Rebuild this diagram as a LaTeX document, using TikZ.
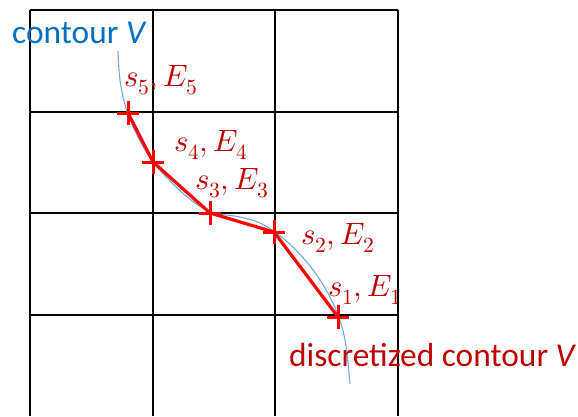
\documentclass[tikz,border=0pt]{standalone}
\usepackage{fontspec}
\usepackage{unicode-math}
\setmainfont{Carlito}
\setmathfont{Latin Modern Math}
\definecolor{txtblue}{HTML}{0070C0}
\definecolor{txtred}{HTML}{C00000}
\definecolor{curveblue}{HTML}{5B9BD5}
\begin{document}
\begin{tikzpicture}[x=1bp,y=-1bp,
  gridline/.style={line width=1.8bp,black},
  poly/.style={line width=3.2bp,red},
  crossmark/.style={line width=3bp,red},
  contour/.style={line width=1.1bp,curveblue!85},
  redlabel/.style={text=txtred,font=\fontsize{33.5}{40}\selectfont,inner sep=0pt},
  mathlabel/.style={text=txtred,font=\fontsize{31}{36}\selectfont,inner sep=0pt},
  bluelabel/.style={text=txtblue,font=\fontsize{33.5}{40}\selectfont,inner sep=0pt}]
\useasboundingbox (0,0) rectangle (578,416);
% grid
\foreach \x in {30,153,275,398} \draw[gridline] (\x,10) -- (\x,416);
\foreach \y in {10,112,213,315} \draw[gridline] (30,\y) -- (398,\y);
% contour
\draw[contour] plot[smooth,tension=0.6] coordinates {(118,51) (120,80) (126,108) (137,135) (152,160) (172,183) (195,203) (215,213) (240,217) (262,224) (285,240) (305,260) (322,283) (336,310) (345,340) (350,384)};
% discretized points
\coordinate (p5) at (128,113);
\coordinate (p4) at (153,162);
\coordinate (p3) at (210,213);
\coordinate (p2) at (274,232);
\coordinate (p1) at (338,317);
\draw[poly] (p5) -- (p4) -- (p3) -- (p2) -- (p1);
\foreach \p in {p1,p2,p3,p4,p5}
  \draw[crossmark] ([xshift=-11bp]\p) -- ([xshift=11bp]\p) ([yshift=-12bp]\p) -- ([yshift=12bp]\p);
% labels
\node[mathlabel] (l5) at (161,80) {$s_5,E_5$};
\node[mathlabel] (l4) at (211,145) {$s_4,E_4$};
\node[mathlabel] (l3) at (232,183) {$s_3,E_3$};
\node[mathlabel] (l2) at (338,238) {$s_2,E_2$};
\node[mathlabel] (l1) at (365,290) {$s_1,E_1$};
\node[redlabel,anchor=west] (ld) at (289,355) {discretized contour \textit{V}};
\node[bluelabel,anchor=west] (lc) at (12,33) {contour \textit{V}};
\end{tikzpicture}
\end{document}
